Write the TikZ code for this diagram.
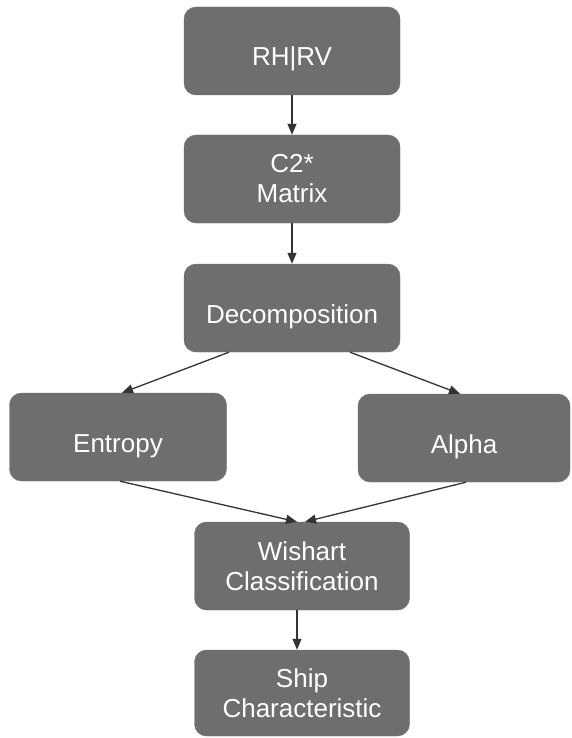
\documentclass[tikz,border=0pt]{standalone}
\usepackage{fontspec}
\setmainfont{Liberation Sans}
\definecolor{stepgray}{RGB}{110,110,110}
\definecolor{arrgray}{RGB}{51,51,51}
\usetikzlibrary{arrows.meta}

\begin{document}
\begin{tikzpicture}[x=1pt, y=-1pt,
  sbox/.style={rectangle, rounded corners=12pt, draw=stepgray, fill=stepgray,
               minimum width=216pt, minimum height=88pt, inner sep=0pt,
               font=\fontsize{26}{30}\selectfont, align=center, text=white},
  onebox/.style={sbox, text height=30pt, text depth=0pt},
  sarr/.style={-{Triangle[length=11pt, width=9pt]}, line width=1.3pt, draw=arrgray}
]
\useasboundingbox (0,0) rectangle (571,738);

% Main chain
\node[onebox] (rh)  at (292, 51)  {RH|RV};
\node[sbox]   (c2)  at (292,179)  {C2*\\Matrix};
\node[onebox] (dec) at (292,308)  {Decomposition};

% Parameters
\node[onebox, minimum width=217pt] (ent) at (118,437) {Entropy};
\node[onebox, minimum width=212pt] (alp) at (464,438) {Alpha};

% Classification
\node[sbox, minimum width=215pt] (wis)  at (302,566) {Wishart\\Classification};
\node[sbox, minimum width=215pt, minimum height=86pt] (ship) at (302,693) {Ship\\Characteristic};

% Arrows
\draw[sarr] (rh.south) -- (c2.north);
\draw[sarr] (c2.south) -- (dec.north);
\draw[sarr] ([xshift=-63pt]dec.south) -- ([xshift=4pt]ent.north);
\draw[sarr] ([xshift=58pt]dec.south)  -- ([xshift=-4pt]alp.north);
\draw[sarr] ([xshift=2pt]ent.south) -- ([xshift=-5pt]wis.north);
\draw[sarr] ([xshift=2pt]alp.south) -- ([xshift=3pt]wis.north);
\draw[sarr] ([xshift=-5pt]wis.south) -- ([xshift=-5pt]ship.north);
\end{tikzpicture}
\end{document}
